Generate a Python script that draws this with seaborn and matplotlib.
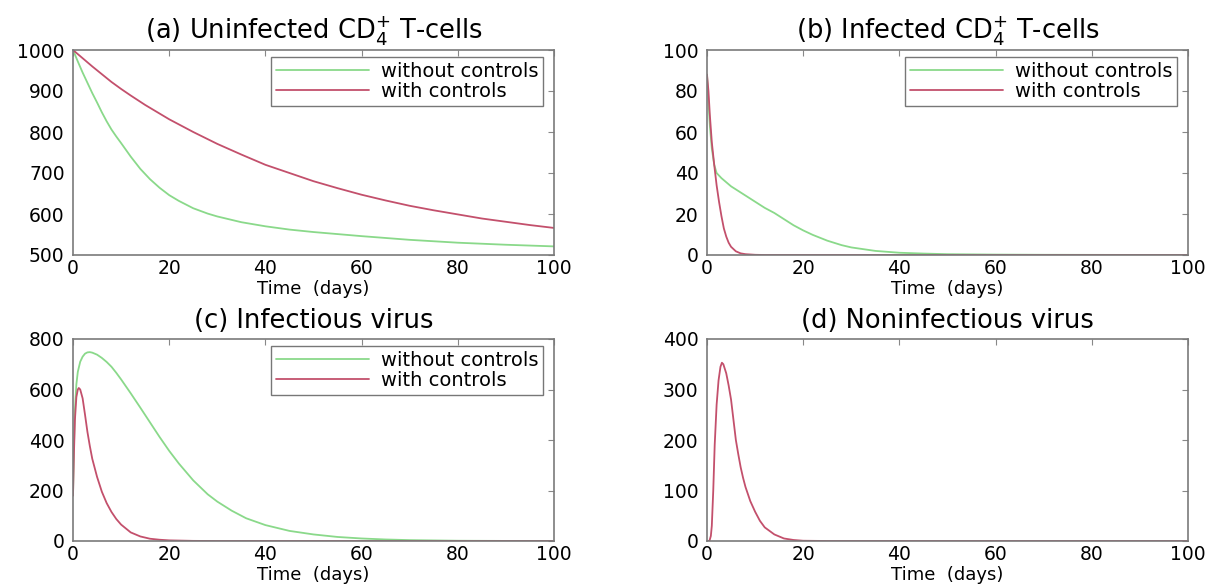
import numpy as np
import pandas as pd
import matplotlib
matplotlib.use("Agg")
import matplotlib.pyplot as plt
import seaborn as sns

# ---------------- data ----------------
# (a) Uninfected CD4+ T-cells
t_a_without = [0, 1, 2, 3, 4, 5, 6, 7, 8, 9, 10, 12, 14, 16, 18, 20, 22, 25, 28, 30, 35, 40, 45, 50, 60, 70, 80, 90, 100]
a_without = [1000, 972, 945, 920, 895, 872, 848, 826, 806, 789, 773, 740, 710, 685, 664, 646, 632, 614, 601, 594, 580, 570, 562, 556, 546, 537, 530, 525, 521]
t_a_with = [0, 2, 4, 6, 8, 10, 12, 15, 18, 20, 25, 30, 35, 40, 45, 50, 55, 60, 65, 70, 75, 80, 85, 90, 95, 100]
a_with = [1000, 980, 960, 941, 922, 905, 889, 866, 845, 831, 800, 771, 745, 720, 700, 680, 663, 647, 633, 620, 609, 599, 589, 581, 573, 566]

# (b) Infected CD4+ T-cells
t_b_without = [0, 0.3, 0.6, 1, 1.5, 2, 3, 4, 5, 6, 8, 10, 12, 14, 16, 18, 20, 22, 25, 28, 30, 35, 40, 45, 50, 60, 70, 100]
b_without = [88, 75, 63, 52, 44, 40, 37.5, 35.5, 33.5, 32, 29, 26, 23, 20.5, 17.5, 14.5, 12, 9.8, 7, 4.8, 3.7, 2, 1.1, 0.7, 0.4, 0.2, 0.1, 0]
t_b_with = [0, 0.3, 0.6, 1, 1.5, 2, 2.5, 3, 3.5, 4, 4.5, 5, 6, 7, 8, 10, 12, 100]
b_with = [88, 80, 68, 55, 44, 34, 26, 19, 13, 9, 6, 4, 1.8, 0.8, 0.4, 0.1, 0, 0]

# (c) Infectious virus
t_c_without = [0, 0.2, 0.4, 0.7, 1, 1.5, 2, 2.5, 3, 3.5, 4, 5, 6, 7, 8, 9, 10, 12, 14, 16, 18, 20, 22, 25, 28, 30, 33, 36, 40, 45, 50, 55, 60, 65, 70, 80, 90, 100]
c_without = [180, 380, 520, 620, 670, 710, 730, 742, 747, 748, 746, 738, 725, 709, 690, 666, 640, 585, 528, 470, 412, 357, 307, 240, 185, 156, 120, 90, 63, 40, 26, 16, 10, 6, 3.5, 1, 0.3, 0]
t_c_with = [0, 0.2, 0.4, 0.7, 1, 1.2, 1.5, 2, 2.5, 3, 3.5, 4, 5, 6, 7, 8, 9, 10, 12, 14, 16, 18, 20, 25, 30, 100]
c_with = [180, 350, 480, 570, 600, 606, 600, 565, 500, 432, 376, 326, 254, 195, 150, 115, 87, 65, 34, 18, 9, 5, 2.5, 0.5, 0, 0]

# (d) Noninfectious virus
t_d_with = [0, 0.5, 0.8, 1, 1.3, 1.6, 2, 2.4, 2.8, 3.1, 3.4, 4, 4.5, 5, 5.5, 6, 6.5, 7, 7.5, 8, 9, 10, 11, 12, 14, 16, 18, 20, 25, 100]
d_with = [0, 0, 10, 30, 100, 190, 270, 318, 345, 353, 350, 332, 308, 280, 240, 200, 172, 146, 125, 107, 79, 58, 40, 27, 13, 5, 2, 0.5, 0, 0]

titles = ["(a) Uninfected CD$_4^{+}$ T-cells", "(b) Infected CD$_4^{+}$ T-cells",
          "(c) Infectious virus", "(d) Noninfectious virus"]
series_names = ["without controls", "with controls"]
x_label = "Time  (days)"
ylims = [(500, 1000), (0, 100), (0, 800), (0, 400)]
yticks = [[500, 600, 700, 800, 900, 1000], [0, 20, 40, 60, 80, 100],
          [0, 200, 400, 600, 800], [0, 100, 200, 300, 400]]
xticks = [0, 20, 40, 60, 80, 100]

# ---------------- styling ----------------
sns.set_theme(style="white")
plt.rcParams["font.family"] = ["DejaVu Sans"]
plt.rcParams["mathtext.fontset"] = "dejavusans"
plt.rcParams["text.color"] = "black"
plt.rcParams["axes.labelcolor"] = "black"
plt.rcParams["axes.titlecolor"] = "black"

GREEN = "#8ad98a"
RED = "#c3506c"
palette = {series_names[0]: GREEN, series_names[1]: RED}

fig = plt.figure(figsize=(12.17, 5.88), dpi=100)
W, H = 1217, 588
boxes = [(73, 50, 554, 255), (707, 50, 1188, 255), (73, 339, 554, 541), (707, 339, 1188, 541)]
axes = []
for (l, t, r, b) in boxes:
    axes.append(fig.add_axes([l / W, 1 - b / H, (r - l) / W, (b - t) / H]))

def long_df(pairs):
    frames = []
    for name, t, vals in pairs:
        frames.append(pd.DataFrame({"t": t, "v": vals, "series": name}))
    return pd.concat(frames, ignore_index=True)

data = [
    long_df([(series_names[0], t_a_without, a_without), (series_names[1], t_a_with, a_with)]),
    long_df([(series_names[0], t_b_without, b_without), (series_names[1], t_b_with, b_with)]),
    long_df([(series_names[0], t_c_without, c_without), (series_names[1], t_c_with, c_with)]),
    long_df([(series_names[1], t_d_with, d_with)]),
]

for i, ax in enumerate(axes):
    df = data[i]
    show_legend = i < 3
    sns.lineplot(data=df, x="t", y="v", hue="series", palette=palette, ax=ax,
                 linewidth=1.3, legend=show_legend, estimator=None, sort=False)
    ax.set_xlim(0, 100)
    ax.set_ylim(*ylims[i])
    ax.set_xticks(xticks)
    ax.set_yticks(yticks[i])
    ax.set_xlabel(x_label, fontsize=13, labelpad=1, color="black")
    ax.set_ylabel("")
    ax.set_title(titles[i], fontsize=18.5, pad=8, color="black")
    ax.tick_params(direction="in", length=4, width=0.8, top=True, right=True,
                   labelsize=13.5, colors="black")
    ax.tick_params(axis="both", color="#888888")
    ax.tick_params(axis="x", pad=3)
    ax.tick_params(axis="y", pad=6)
    for s in ax.spines.values():
        s.set_color("#7a7a7a")
        s.set_linewidth(1.2)
    if show_legend:
        leg = ax.legend(loc="upper right", bbox_to_anchor=(1 - 11 / 481, 1 - 7 / 205),
                        fontsize=14, frameon=True, fancybox=False,
                        edgecolor="#555555", handlelength=4.8, handletextpad=0.6,
                        borderpad=0.25, labelspacing=0.05, borderaxespad=0)
        leg.get_frame().set_linewidth(1.0)
        for txt in leg.get_texts():
            txt.set_color("black")

fig.savefig("out.png", dpi=100)
